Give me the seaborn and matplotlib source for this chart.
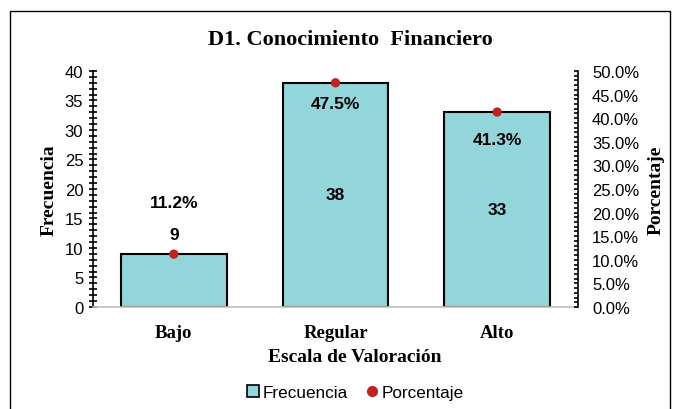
import numpy as np
import matplotlib
matplotlib.use('Agg')
import matplotlib.pyplot as plt
import seaborn as sns
from matplotlib.patches import Patch, Rectangle
from matplotlib.lines import Line2D
from matplotlib.ticker import MultipleLocator, PercentFormatter

categorias = ['Bajo', 'Regular', 'Alto']
frecuencia = [9, 38, 33]
porcentaje = [0.112, 0.475, 0.413]
etiquetas_pct = ['11.2%', '47.5%', '41.3%']

color_barra = '#92D6DC'
color_punto = '#C0231E'
serif = 'Liberation Serif'
sans = 'Liberation Sans'

sns.set_style('white')
plt.rcParams['font.family'] = [sans, 'DejaVu Sans']
plt.rcParams['text.color'] = 'black'
plt.rcParams['axes.labelcolor'] = 'black'
plt.rcParams['xtick.color'] = 'black'
plt.rcParams['ytick.color'] = 'black'

fig = plt.figure(figsize=(6.77, 4.10), dpi=100)
ax = fig.add_axes([0.1374, 0.2488, 0.7164, 0.5756])

sns.barplot(x=categorias, y=frecuencia, color=color_barra, edgecolor='black',
            linewidth=1.5, width=0.655, saturation=1, ax=ax)
ax.set_xlim(-0.5, 2.5)
ax.set_ylim(0, 40)
ax.yaxis.set_major_locator(MultipleLocator(5))
ax.yaxis.set_minor_locator(MultipleLocator(1))
ax.tick_params(axis='y', which='both', direction='inout', length=6, width=1.2,
               color='black', left=True, labelsize=12, pad=4)
ax.tick_params(axis='x', length=0, pad=12)
for lab in ax.get_xticklabels():
    lab.set_fontfamily(serif)
    lab.set_fontweight('bold')
    lab.set_fontsize(13.5)
for s in ['top', 'right']:
    ax.spines[s].set_visible(False)
ax.spines['left'].set_color('black')
ax.spines['left'].set_linewidth(1.2)
ax.spines['bottom'].set_color('#BFBFBF')
ax.spines['bottom'].set_linewidth(1.2)
ax.set_xlabel('Escala de Valoración', fontfamily=serif, fontweight='bold',
              fontsize=14)
ax.xaxis.set_label_coords(0.54, -0.175)
ax.set_ylabel('Frecuencia', fontfamily=serif, fontweight='bold', fontsize=14,
              labelpad=5)

ax2 = ax.twinx()
sns.scatterplot(x=np.arange(len(categorias)), y=porcentaje, color=color_punto,
                s=45, edgecolor='none', ax=ax2, zorder=5, clip_on=False)
ax2.set_ylim(0, 0.5)
ax2.set_xlim(-0.5, 2.5)
ax2.yaxis.set_major_locator(MultipleLocator(0.05))
ax2.yaxis.set_minor_locator(MultipleLocator(0.01))
ax2.yaxis.set_major_formatter(PercentFormatter(1.0, decimals=1))
ax2.tick_params(axis='y', which='both', direction='in', length=3, width=1.2,
                color='black', right=True, labelsize=12, pad=10)
for s in ['top', 'left', 'bottom']:
    ax2.spines[s].set_visible(False)
ax2.spines['right'].set_color('black')
ax2.spines['right'].set_linewidth(1.2)
ax2.set_ylabel('Porcentaje', fontfamily=serif, fontweight='bold', fontsize=14,
               labelpad=6)

# etiquetas de datos
lbl = dict(ha='center', va='center', fontsize=12.5, fontweight='bold')
ax.annotate(str(frecuencia[0]), (0, frecuencia[0]), xytext=(0, 14),
            textcoords='offset points', **lbl)
ax2.annotate(etiquetas_pct[0], (0, porcentaje[0]), xytext=(0, 37),
             textcoords='offset points', **lbl)
desplaz = [None, -15, -20]
for i in [1, 2]:
    ax.text(i, frecuencia[i] / 2, str(frecuencia[i]), **lbl)
    ax2.annotate(etiquetas_pct[i], (i, porcentaje[i]), xytext=(0, desplaz[i]),
                 textcoords='offset points', **lbl)

fig.suptitle('D1. Conocimiento  Financiero', x=0.518, y=0.928,
             fontfamily=serif, fontweight='bold', fontsize=16)

handles = [Patch(facecolor=color_barra, edgecolor='black', linewidth=1.2),
           Line2D([], [], marker='o', color=color_punto, linestyle='none',
                  markersize=7)]
fig.legend(handles, ['Frecuencia', 'Porcentaje'], loc='center',
           bbox_to_anchor=(0.525, 0.04), ncol=2, frameon=False, fontsize=12.3,
           handlelength=0.7, handleheight=0.7, handletextpad=0.2,
           columnspacing=1.1)

fig.patches.append(Rectangle((0.015, -0.01), 0.975, 0.98,
                             transform=fig.transFigure, fill=False,
                             edgecolor='black', linewidth=1.0))

fig.savefig('out.png', dpi=100)
